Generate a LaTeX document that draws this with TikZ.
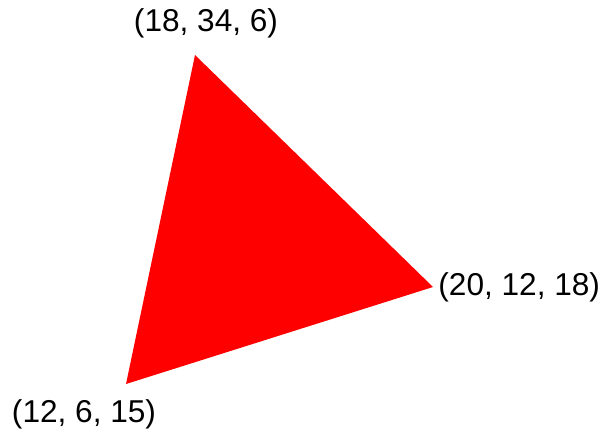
\documentclass[tikz,border=0pt]{standalone}
\usepackage{fontspec}
\setmainfont{Liberation Sans}
\usetikzlibrary{positioning}

\begin{document}
\begin{tikzpicture}[x=0.5pt, y=0.5pt,
    vlabel/.style={inner sep=0pt, font=\fontsize{15.8}{18}\selectfont}]
  \useasboundingbox (0,0) rectangle (603,435);
  % the three corners
  \coordinate (top) at (195,380);
  \coordinate (right) at (433,148);
  \coordinate (bottom) at (126,51);
  \fill[red] (top) -- (right) -- (bottom) -- cycle;
  % corner labels
  \node[vlabel] (topl) at (206,412) {(18, 34, 6)};
  \node[vlabel, anchor=west] (rightl) at (438,148) {(20, 12, 18)};
  \node[vlabel] (bottoml) at (84,21) {(12, 6, 15)};
\end{tikzpicture}
\end{document}
